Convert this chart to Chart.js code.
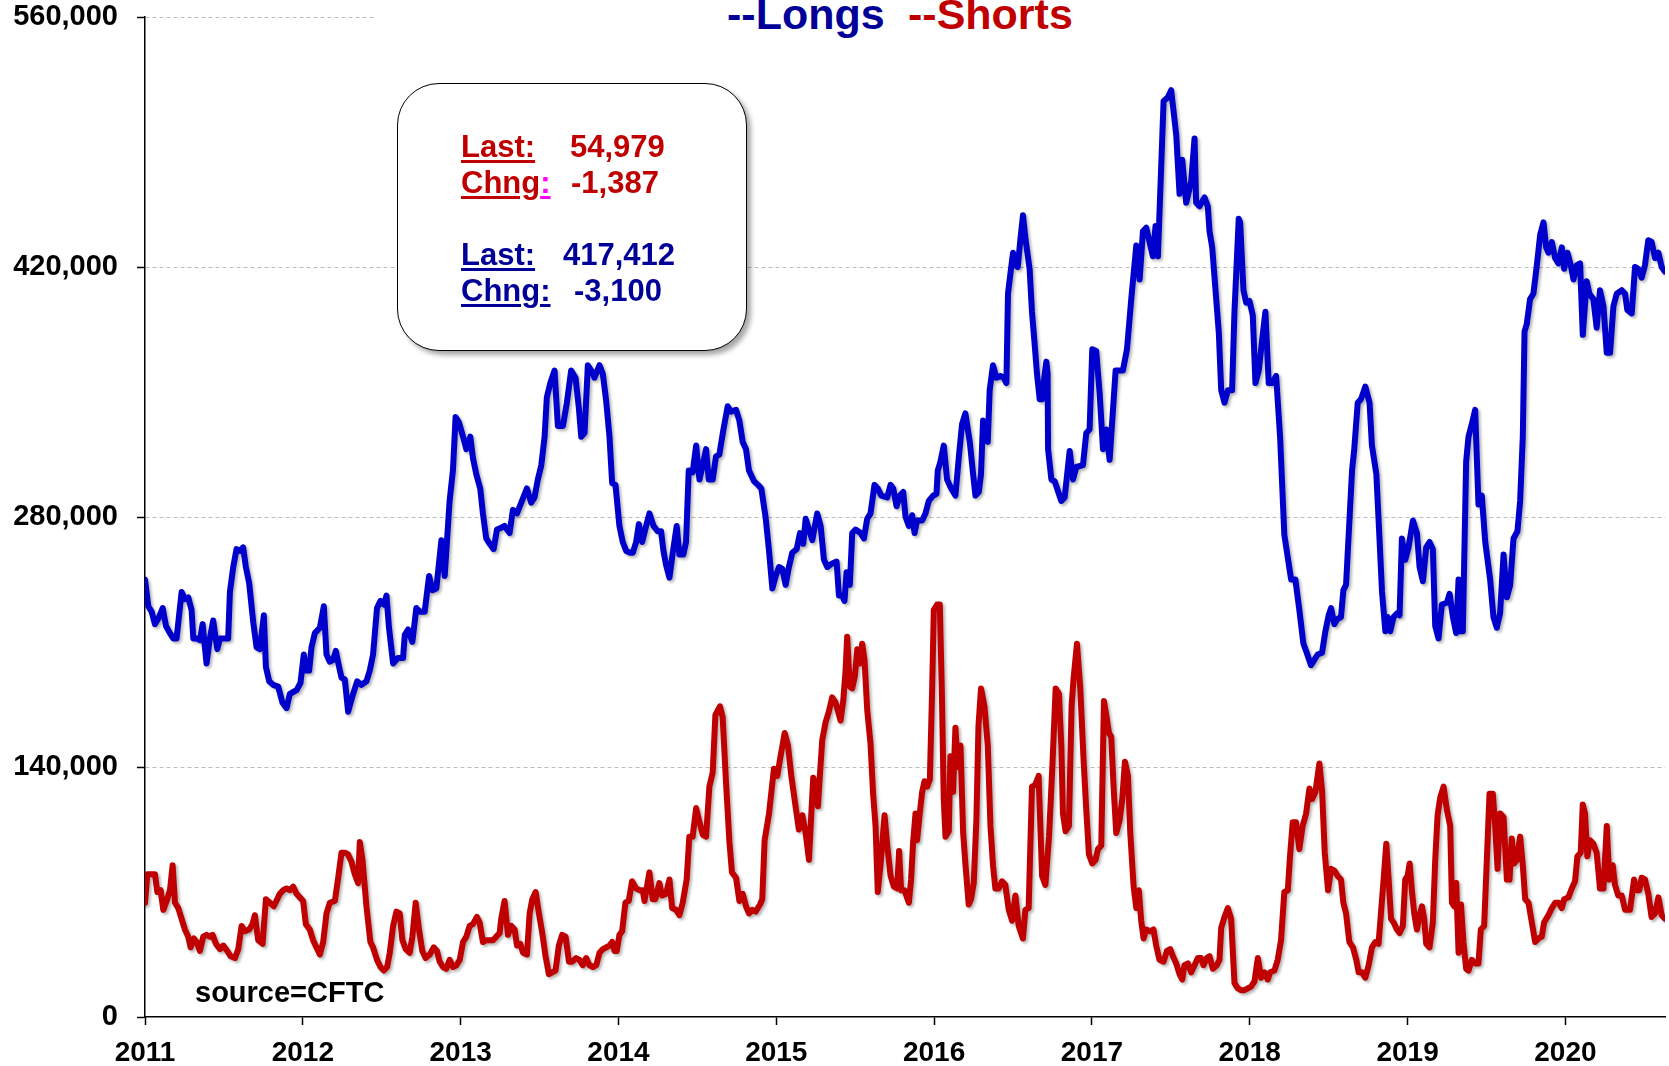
<!DOCTYPE html>
<html>
<head>
<meta charset="utf-8">
<script src="https://cdn.jsdelivr.net/npm/chart.js@4.4.1/dist/chart.umd.min.js"></script>
<style>
  html, body { margin: 0; padding: 0; background: #fff; }
  #wrap { position: relative; width: 1669px; height: 1066px; overflow: hidden;
          font-family: "Liberation Sans", Arial, sans-serif; font-weight: bold; }
  #c { position: absolute; left: 0; top: 0; }
  .t { position: absolute; line-height: 1; white-space: nowrap; }
  .u { text-decoration: underline; text-decoration-thickness: 3px; text-underline-offset: 3px; }
  .red { color: #C00000; }
  .blue { color: #000099; }
  #titleMask { position: absolute; left: 375px; top: 0; width: 1294px; height: 40px; background: #fff; }
  #box { position: absolute; left: 397px; top: 83px; width: 350px; height: 268px; box-sizing: border-box;
         border: 1.5px solid #000; border-radius: 42px; background: #fff;
         box-shadow: 4px 4px 5px rgba(0,0,0,0.35); }
  .bx { font-size: 31px; }
</style>
</head>
<body>
<div id="wrap">
  <canvas id="c" width="1669" height="1066"></canvas>
  <div id="titleMask"></div>
  <span class="t blue" style="left:727px; top:-7.4px; font-size:43px;">--Longs</span>
  <span class="t red" style="left:908px; top:-7.4px; font-size:43px;">--Shorts</span>

  <div id="box"></div>
  <span class="t bx red u" style="left:461px; top:130.8px;">Last:</span>
  <span class="t bx red" style="left:570px; top:130.8px;">54,979</span>
  <span class="t bx red" style="left:461px; top:166.6px;"><span class="u">Chng</span><span class="u" style="color:#FF00FF;">:</span></span>
  <span class="t bx red" style="left:571px; top:166.6px;">-1,387</span>
  <span class="t bx blue u" style="left:461px; top:238.8px;">Last:</span>
  <span class="t bx blue" style="left:563px; top:238.8px;">417,412</span>
  <span class="t bx blue u" style="left:461px; top:274.8px;">Chng:</span>
  <span class="t bx blue" style="left:574px; top:274.8px;">-3,100</span>

  <span class="t" style="left:195px; top:978px; font-size:29px; color:#000;">source=CFTC</span>
</div>
<script>
// ---- data (x = decimal year, values in thousands of contracts) ----
const yearTicks = [2011, 2012, 2013, 2014, 2015, 2016, 2017, 2018, 2019, 2020];
const valueTicks = [0, 140000, 280000, 420000, 560000];

const longsYear = [
  2011.000, 2011.021, 2011.042, 2011.063, 2011.084, 2011.112, 2011.133, 2011.158, 2011.179, 2011.200,
  2011.232, 2011.253, 2011.274, 2011.295, 2011.306, 2011.327, 2011.348, 2011.365, 2011.390, 2011.411,
  2011.432, 2011.458, 2011.475, 2011.506, 2011.527, 2011.538, 2011.559, 2011.580, 2011.601, 2011.622,
  2011.639, 2011.660, 2011.686, 2011.707, 2011.728, 2011.753, 2011.766, 2011.787, 2011.812, 2011.844,
  2011.871, 2011.897, 2011.918, 2011.939, 2011.960, 2011.985,
  2012.006, 2012.019, 2012.040, 2012.055, 2012.076, 2012.108, 2012.133, 2012.150, 2012.171, 2012.192,
  2012.209, 2012.230, 2012.245, 2012.266, 2012.287, 2012.319, 2012.344, 2012.371, 2012.403, 2012.424,
  2012.445, 2012.470, 2012.492, 2012.513, 2012.530, 2012.546, 2012.572, 2012.603, 2012.635, 2012.646,
  2012.667, 2012.694, 2012.719, 2012.741, 2012.772, 2012.800, 2012.821, 2012.846, 2012.878, 2012.899,
  2012.930, 2012.951, 2012.968, 2012.989,
  2013.015, 2013.036, 2013.061, 2013.078, 2013.099, 2013.124, 2013.141, 2013.162, 2013.184, 2013.209,
  2013.230, 2013.257, 2013.278, 2013.310, 2013.331, 2013.357, 2013.384, 2013.420, 2013.447, 2013.468,
  2013.489, 2013.511, 2013.532, 2013.546, 2013.568, 2013.595, 2013.616, 2013.648, 2013.673, 2013.700,
  2013.728, 2013.749, 2013.764, 2013.785, 2013.806, 2013.827, 2013.848, 2013.880, 2013.901, 2013.922,
  2013.943, 2013.960, 2013.981,
  2014.006, 2014.027, 2014.049, 2014.074, 2014.091, 2014.112, 2014.129, 2014.150, 2014.175, 2014.196,
  2014.222, 2014.249, 2014.270, 2014.285, 2014.302, 2014.323, 2014.344, 2014.369, 2014.386, 2014.411,
  2014.428, 2014.445, 2014.470, 2014.492, 2014.513, 2014.534, 2014.555, 2014.572, 2014.597, 2014.618,
  2014.639, 2014.665, 2014.692, 2014.713, 2014.745, 2014.766, 2014.787, 2014.808, 2014.827, 2014.859,
  2014.884, 2014.905, 2014.932, 2014.954, 2014.975, 2014.996,
  2015.017, 2015.038, 2015.059, 2015.080, 2015.101, 2015.129, 2015.150, 2015.171, 2015.186, 2015.207,
  2015.228, 2015.259, 2015.281, 2015.302, 2015.323, 2015.354, 2015.382, 2015.397, 2015.418, 2015.432,
  2015.445, 2015.466, 2015.481, 2015.502, 2015.534, 2015.555, 2015.576, 2015.597, 2015.622, 2015.643,
  2015.665, 2015.703, 2015.724, 2015.741, 2015.762, 2015.783, 2015.804, 2015.819, 2015.840, 2015.861,
  2015.876, 2015.892, 2015.924, 2015.945, 2015.966, 2015.994,
  2016.015, 2016.023, 2016.040, 2016.061, 2016.082, 2016.108, 2016.135, 2016.156, 2016.177, 2016.198,
  2016.226, 2016.247, 2016.262, 2016.283, 2016.297, 2016.310, 2016.331, 2016.340, 2016.352, 2016.373,
  2016.395, 2016.420, 2016.441, 2016.458, 2016.468, 2016.483, 2016.500, 2016.515, 2016.530, 2016.546,
  2016.563, 2016.580, 2016.605, 2016.620, 2016.635, 2016.652, 2016.669, 2016.684, 2016.698, 2016.711,
  2016.719, 2016.722, 2016.743, 2016.764, 2016.806, 2016.827, 2016.859, 2016.880, 2016.901, 2016.943,
  2016.964, 2016.985,
  2017.002, 2017.027, 2017.049, 2017.070, 2017.091, 2017.112, 2017.150, 2017.196, 2017.222, 2017.249,
  2017.281, 2017.302, 2017.323, 2017.344, 2017.386, 2017.403, 2017.418, 2017.454, 2017.481, 2017.502,
  2017.534, 2017.555, 2017.572, 2017.597, 2017.629, 2017.650, 2017.660, 2017.681, 2017.713, 2017.734,
  2017.745, 2017.762, 2017.783, 2017.804, 2017.819, 2017.840, 2017.861, 2017.888, 2017.903, 2017.930,
  2017.939, 2017.960, 2017.977, 2017.998,
  2018.019, 2018.036, 2018.057, 2018.078, 2018.099, 2018.120, 2018.141, 2018.167, 2018.192, 2018.219,
  2018.262, 2018.289, 2018.314, 2018.340, 2018.361, 2018.388, 2018.409, 2018.430, 2018.458, 2018.479,
  2018.500, 2018.515, 2018.536, 2018.557, 2018.578, 2018.593, 2018.610, 2018.648, 2018.662, 2018.684,
  2018.705, 2018.732, 2018.759, 2018.774, 2018.802, 2018.823, 2018.838, 2018.859, 2018.873, 2018.890,
  2018.911, 2018.932, 2018.949, 2018.964, 2018.985,
  2019.006, 2019.034, 2019.059, 2019.076, 2019.097, 2019.118, 2019.139, 2019.160, 2019.175, 2019.196,
  2019.217, 2019.249, 2019.266, 2019.287, 2019.308, 2019.323, 2019.333, 2019.350, 2019.371, 2019.386,
  2019.407, 2019.428, 2019.449, 2019.470, 2019.492, 2019.523, 2019.544, 2019.565, 2019.586, 2019.608,
  2019.629, 2019.650, 2019.671, 2019.696, 2019.713, 2019.730, 2019.741, 2019.755, 2019.776, 2019.797,
  2019.819, 2019.840, 2019.861, 2019.878, 2019.892, 2019.914, 2019.935, 2019.956, 2019.977, 2019.992,
  2020.013, 2020.034, 2020.051, 2020.072, 2020.093, 2020.110, 2020.135, 2020.152, 2020.177, 2020.198,
  2020.219, 2020.241, 2020.262, 2020.283, 2020.304, 2020.325, 2020.357, 2020.378, 2020.392, 2020.420,
  2020.441, 2020.462, 2020.483, 2020.504, 2020.525, 2020.546, 2020.568, 2020.589, 2020.610, 2020.631
];
const longsK = [
  245, 230, 227, 220, 223, 229, 219, 215, 212, 212,
  238, 234, 235, 228, 212, 212, 211, 220, 198, 212,
  222, 206, 212, 212, 212, 238, 252, 262, 261, 263,
  252, 243, 221, 207, 206, 225, 196, 188, 186, 185,
  176, 173, 181, 182, 183, 187,
  203, 194, 194, 207, 215, 218, 230, 203, 199, 200,
  205, 196, 190, 189, 171, 181, 188, 186, 188, 194,
  203, 229, 233, 231, 236, 218, 198, 201, 201, 214,
  217, 210, 229, 227, 227, 247, 239, 240, 267, 247,
  289, 306, 336, 333,
  325, 318, 325, 313, 304, 296, 282, 268, 265, 262,
  273, 274, 275, 271, 284, 282, 288, 296, 288, 291,
  301, 309, 325, 347, 355, 362, 331, 331, 344, 362,
  358, 341, 325, 327, 365, 362, 358, 365, 360, 345,
  325, 299, 298,
  275, 266, 261, 260, 260, 266, 276, 266, 275, 282,
  275, 272, 272, 261, 253, 246, 260, 275, 259, 259,
  266, 306, 305, 320, 301, 309, 318, 301, 301, 314,
  315, 329, 342, 339, 340, 334, 322, 318, 306, 300,
  298, 296, 280, 261, 240, 247,
  252, 251, 242, 252, 260, 262, 271, 265, 279, 273,
  267, 282, 275, 256, 252, 254, 255, 236, 236, 233,
  249, 242, 271, 273, 271, 268, 279, 282, 298, 296,
  292, 291, 298, 296, 286, 292, 294, 280, 275, 281,
  271, 278, 278, 282, 289, 292,
  293, 306, 311, 320, 301, 296, 292, 313, 332, 338,
  322, 304, 292, 294, 304, 334, 329, 322, 351, 365,
  358, 359, 358, 355, 405, 416, 428, 421, 420, 435,
  449, 435, 419, 395, 379, 360, 346, 346, 358, 367,
  360, 318, 301, 300, 289, 291, 317, 301, 308, 309,
  327, 329,
  374, 373, 349, 318, 329, 312, 362, 362, 374, 402,
  432, 413, 440, 442, 426, 443, 426, 513, 515, 519,
  494, 461, 480, 456, 468, 492, 456, 454, 459, 454,
  440, 431, 407, 383, 351, 344, 351, 351, 395, 447,
  445, 407, 400, 401,
  393, 355, 362, 379, 395, 355, 355, 359, 325, 270,
  245, 245, 228, 209, 204, 197, 200, 203, 204, 216,
  225, 229, 220, 223, 224, 239, 242, 306, 318, 344,
  346, 353, 344, 320, 304, 266, 238, 216, 224, 216,
  224, 226, 225, 268, 256,
  263, 278, 271, 252, 244, 263, 266, 262, 219, 212,
  231, 232, 237, 224, 215, 245, 216, 216, 311, 325,
  332, 340, 287, 292, 266, 245, 224, 218, 226, 259,
  235, 242, 268, 272, 289, 325, 384, 388, 402, 405,
  421, 438, 445, 431, 428, 434, 425, 422, 431, 419,
  428, 421, 413, 421, 422, 382, 412, 405, 402, 386,
  407, 398, 372, 372, 398, 405, 407, 405, 396, 394,
  420, 419, 414, 421, 435, 434, 425, 428, 420, 417.4
];

const shortsYear = [
  2011.000, 2011.015, 2011.042, 2011.063, 2011.078, 2011.099, 2011.116, 2011.137, 2011.158, 2011.175,
  2011.190, 2011.211, 2011.232, 2011.253, 2011.274, 2011.289, 2011.310, 2011.327, 2011.348, 2011.369,
  2011.390, 2011.411, 2011.428, 2011.449, 2011.475, 2011.496, 2011.521, 2011.542, 2011.570, 2011.591,
  2011.612, 2011.633, 2011.660, 2011.681, 2011.696, 2011.717, 2011.745, 2011.766, 2011.791, 2011.816,
  2011.838, 2011.854, 2011.876, 2011.897, 2011.918, 2011.939, 2011.960, 2011.981,
  2012.002, 2012.019, 2012.044, 2012.065, 2012.086, 2012.108, 2012.129, 2012.150, 2012.171, 2012.203,
  2012.224, 2012.245, 2012.266, 2012.287, 2012.308, 2012.329, 2012.350, 2012.361, 2012.378, 2012.403,
  2012.428, 2012.445, 2012.470, 2012.492, 2012.513, 2012.534, 2012.551, 2012.572, 2012.593, 2012.614,
  2012.631, 2012.652, 2012.677, 2012.694, 2012.715, 2012.736, 2012.757, 2012.778, 2012.804, 2012.829,
  2012.850, 2012.867, 2012.888, 2012.909, 2012.930, 2012.951, 2012.973, 2012.994,
  2013.015, 2013.036, 2013.057, 2013.078, 2013.103, 2013.120, 2013.141, 2013.162, 2013.184, 2013.205,
  2013.226, 2013.247, 2013.257, 2013.278, 2013.300, 2013.321, 2013.342, 2013.357, 2013.378, 2013.395,
  2013.420, 2013.437, 2013.454, 2013.475, 2013.496, 2013.517, 2013.538, 2013.559, 2013.580, 2013.601,
  2013.622, 2013.643, 2013.665, 2013.686, 2013.707, 2013.732, 2013.753, 2013.774, 2013.795, 2013.816,
  2013.838, 2013.859, 2013.880, 2013.901, 2013.922, 2013.943, 2013.960, 2013.975, 2013.989,
  2014.006, 2014.023, 2014.044, 2014.065, 2014.086, 2014.112, 2014.133, 2014.154, 2014.165, 2014.196,
  2014.217, 2014.234, 2014.259, 2014.276, 2014.302, 2014.323, 2014.340, 2014.365, 2014.386, 2014.407,
  2014.432, 2014.449, 2014.470, 2014.492, 2014.508, 2014.534, 2014.555, 2014.576, 2014.597, 2014.614,
  2014.643, 2014.660, 2014.681, 2014.703, 2014.719, 2014.745, 2014.766, 2014.787, 2014.808, 2014.827,
  2014.848, 2014.869, 2014.897, 2014.911, 2014.926, 2014.954, 2014.985,
  2015.006, 2015.027, 2015.053, 2015.074, 2015.095, 2015.122, 2015.143, 2015.165, 2015.186, 2015.207,
  2015.222, 2015.234, 2015.249, 2015.264, 2015.276, 2015.291, 2015.312, 2015.333, 2015.354, 2015.376,
  2015.392, 2015.407, 2015.424, 2015.439, 2015.449, 2015.466, 2015.481, 2015.498, 2015.513, 2015.530,
  2015.544, 2015.559, 2015.576, 2015.597, 2015.614, 2015.629, 2015.643, 2015.660, 2015.686, 2015.703,
  2015.724, 2015.745, 2015.766, 2015.778, 2015.791, 2015.812, 2015.840, 2015.854, 2015.867, 2015.882,
  2015.892, 2015.909, 2015.924, 2015.939, 2015.956, 2015.973, 2015.987, 2015.998,
  2016.019, 2016.036, 2016.049, 2016.061, 2016.072, 2016.093, 2016.103, 2016.120, 2016.135, 2016.150,
  2016.167, 2016.184, 2016.198, 2016.219, 2016.234, 2016.251, 2016.268, 2016.281, 2016.297, 2016.319,
  2016.340, 2016.357, 2016.373, 2016.388, 2016.409, 2016.430, 2016.451, 2016.473, 2016.494, 2016.515,
  2016.536, 2016.563, 2016.578, 2016.599, 2016.620, 2016.641, 2016.662, 2016.684, 2016.705, 2016.728,
  2016.749, 2016.770, 2016.791, 2016.806, 2016.816, 2016.833, 2016.854, 2016.871, 2016.884, 2016.905,
  2016.926, 2016.947, 2016.964, 2016.981,
  2017.002, 2017.023, 2017.038, 2017.059, 2017.076, 2017.091, 2017.108, 2017.122, 2017.137, 2017.154,
  2017.175, 2017.192, 2017.209, 2017.228, 2017.243, 2017.264, 2017.281, 2017.297, 2017.312, 2017.327,
  2017.344, 2017.369, 2017.390, 2017.407, 2017.428, 2017.454, 2017.475, 2017.496, 2017.513, 2017.534,
  2017.555, 2017.572, 2017.586, 2017.608, 2017.629, 2017.650, 2017.671, 2017.692, 2017.707, 2017.728,
  2017.745, 2017.766, 2017.791, 2017.808, 2017.819, 2017.840, 2017.861, 2017.882, 2017.903, 2017.924,
  2017.945, 2017.966, 2017.987,
  2018.008, 2018.030, 2018.051, 2018.072, 2018.093, 2018.114, 2018.129, 2018.156, 2018.177, 2018.198,
  2018.219, 2018.241, 2018.255, 2018.272, 2018.293, 2018.314, 2018.335, 2018.357, 2018.378, 2018.395,
  2018.416, 2018.441, 2018.458, 2018.475, 2018.496, 2018.515, 2018.536, 2018.557, 2018.578, 2018.593,
  2018.610, 2018.631, 2018.654, 2018.675, 2018.690, 2018.711, 2018.732, 2018.753, 2018.774, 2018.795,
  2018.816, 2018.831, 2018.848, 2018.865, 2018.880, 2018.895, 2018.911, 2018.932, 2018.949, 2018.970,
  2018.985,
  2019.000, 2019.013, 2019.027, 2019.042, 2019.059, 2019.076, 2019.091, 2019.105, 2019.118, 2019.139,
  2019.160, 2019.175, 2019.190, 2019.207, 2019.228, 2019.249, 2019.270, 2019.281, 2019.295, 2019.308,
  2019.323, 2019.338, 2019.354, 2019.371, 2019.386, 2019.407, 2019.428, 2019.449, 2019.464, 2019.485,
  2019.502, 2019.519, 2019.540, 2019.555, 2019.570, 2019.586, 2019.608, 2019.629, 2019.646, 2019.660,
  2019.675, 2019.692, 2019.713, 2019.730, 2019.745, 2019.766, 2019.787, 2019.808, 2019.829, 2019.850,
  2019.865, 2019.892, 2019.914, 2019.935, 2019.956, 2019.977, 2019.992,
  2020.019, 2020.040, 2020.061, 2020.076, 2020.097, 2020.110, 2020.124, 2020.139, 2020.156, 2020.177,
  2020.198, 2020.219, 2020.241, 2020.262, 2020.278, 2020.300, 2020.314, 2020.335, 2020.357, 2020.378,
  2020.409, 2020.435, 2020.451, 2020.468, 2020.483, 2020.504, 2020.525, 2020.546, 2020.568, 2020.589,
  2020.610, 2020.631
];
const shortsK = [
  64, 80, 80, 80, 70, 71, 60, 65, 71, 85,
  64, 61, 55, 49, 45, 39, 44, 42, 37, 45,
  46, 45, 46, 41, 38, 40, 37, 34, 33, 38,
  51, 48, 49, 52, 57, 43, 41, 66, 64, 62,
  66, 69, 71, 72, 71, 73, 69, 67,
  65, 52, 49, 43, 39, 35, 42, 58, 64, 65,
  78, 92, 92, 91, 87, 80, 75, 98, 88, 62,
  42, 39, 32, 28, 26, 28, 36, 51, 59, 58,
  43, 38, 36, 45, 64, 49, 37, 33, 35, 39,
  37, 31, 28, 27, 32, 28, 29, 32,
  42, 45, 51, 52, 56, 53, 42, 43, 43, 43,
  45, 47, 55, 65, 46, 51, 49, 40, 41, 36,
  35, 58, 66, 70, 58, 47, 34, 24, 25, 26,
  40, 46, 45, 31, 31, 33, 32, 29, 33, 29,
  28, 29, 36, 38, 39, 40, 42, 37, 37,
  46, 48, 64, 65, 76, 72, 71, 71, 65, 81,
  66, 66, 75, 68, 69, 77, 61, 60, 57, 64,
  77, 101, 101, 117, 111, 102, 101, 129, 137, 169,
  174, 168, 132, 98, 81, 78, 65, 69, 62, 58,
  60, 59, 63, 66, 99, 114, 139,
  135, 146, 159, 152, 135, 118, 105, 113, 103, 88,
  114, 134, 130, 118, 135, 155, 165, 171, 179, 176,
  171, 166, 177, 194, 213, 185, 184, 191, 206, 198,
  209, 200, 172, 153, 124, 107, 70, 85, 113, 96,
  79, 73, 72, 93, 71, 71, 64, 77, 98, 114,
  99, 114, 126, 132, 129, 133, 182, 228,
  231, 231, 182, 122, 101, 104, 146, 126, 162, 140,
  152, 103, 86, 63, 66, 75, 111, 163, 184, 174,
  152, 107, 85, 72, 72, 76, 74, 60, 54, 68,
  51, 44, 60, 61, 129, 130, 135, 79, 74, 101,
  140, 184, 181, 152, 114, 104, 107, 174, 190, 209,
  184, 144, 116, 91,
  86, 88, 94, 96, 177, 169, 159, 157, 129, 103,
  110, 122, 143, 135, 103, 73, 61, 71, 54, 44,
  49, 48, 49, 40, 32, 31, 37, 38, 34, 30,
  24, 21, 29, 30, 25, 29, 33, 33, 29, 33,
  34, 27, 29, 32, 50, 56, 61, 55, 19, 16,
  15, 15, 16,
  17, 20, 33, 22, 25, 21, 25, 26, 32, 43,
  70, 71, 90, 109, 109, 94, 107, 114, 128, 122,
  126, 142, 127, 92, 71, 83, 82, 79, 77, 64,
  58, 42, 39, 32, 25, 25, 22, 29, 39, 42,
  41, 58, 77, 97, 77, 55, 53, 49, 47, 51,
  77,
  79, 86, 71, 58, 49, 57, 62, 55, 41, 39,
  53, 88, 113, 123, 129, 116, 107, 64, 62, 75,
  36, 63, 42, 27, 26, 32, 30, 30, 49, 51,
  88, 125, 125, 107, 83, 114, 112, 77, 77, 100,
  86, 88, 101, 85, 66, 64, 53, 42, 44, 45,
  53, 57, 61, 64, 64, 61, 66,
  67, 72, 76, 90, 92, 119, 114, 90, 99, 97,
  92, 72, 72, 107, 77, 85, 74, 68, 68, 60,
  60, 77, 71, 71, 78, 77, 69, 56, 58, 67,
  57, 54.979
];

// ---- chart ----
const FONT = '"Liberation Sans", Arial, sans-serif';

const toPoints = (xs, ks) => xs.map((x, i) => ({ x: x, y: ks[i] * 1000 }));

// soft drop shadow under the lines, like the original
const lineShadow = {
  id: 'lineShadow',
  beforeDatasetDraw(chart) {
    const c = chart.ctx;
    c.save();
    c.shadowColor = 'rgba(0,0,0,0.3)';
    c.shadowBlur = 3;
    c.shadowOffsetX = 2;
    c.shadowOffsetY = 2;
  },
  afterDatasetDraw(chart) {
    chart.ctx.restore();
  }
};

new Chart(document.getElementById('c'), {
  type: 'line',
  data: {
    datasets: [
      {
        label: 'Longs',
        data: toPoints(longsYear, longsK),
        borderColor: '#0000CC',
        borderWidth: 6,
        pointRadius: 0,
        tension: 0,
        borderJoinStyle: 'round',
        borderCapStyle: 'round'
      },
      {
        label: 'Shorts',
        data: toPoints(shortsYear, shortsK),
        borderColor: '#C00000',
        borderWidth: 6,
        pointRadius: 0,
        tension: 0,
        borderJoinStyle: 'round',
        borderCapStyle: 'round'
      }
    ]
  },
  options: {
    responsive: false,
    animation: false,
    layout: { padding: { top: 17, right: 4, left: 0, bottom: 0 } },
    plugins: {
      legend: { display: false },
      tooltip: { enabled: false }
    },
    scales: {
      x: {
        type: 'linear',
        min: yearTicks[0],
        max: longsYear[longsYear.length - 1],
        afterBuildTicks: s => { s.ticks = yearTicks.map(v => ({ value: v })); },
        afterFit: s => { s.height = 49; s.paddingLeft = 0; s.paddingRight = 0; },
        grid: { drawOnChartArea: false, drawTicks: true, tickLength: 8, tickColor: '#000', tickWidth: 1.5 },
        border: { display: true, color: '#000', width: 1.5 },
        ticks: {
          autoSkip: false, maxRotation: 0, padding: 11, color: '#000',
          font: { family: FONT, size: 28, weight: 'bold' },
          callback: v => String(v)
        }
      },
      y: {
        min: valueTicks[0],
        max: valueTicks[valueTicks.length - 1],
        afterBuildTicks: s => { s.ticks = valueTicks.map(v => ({ value: v })); },
        afterFit: s => { s.width = 145; s.paddingTop = 0; s.paddingBottom = 0; },
        grid: {
          color: c => (c.tick && c.tick.value === 0) ? 'rgba(0,0,0,0)' : '#BDBDBD',
          lineWidth: 1, tickLength: 8, tickColor: '#000', tickWidth: 1.5
        },
        border: { display: true, color: '#000', width: 1.5, dash: [4, 3] },
        ticks: {
          padding: 19, color: '#000',
          font: { family: FONT, size: 29, weight: 'bold' },
          callback: v => v.toLocaleString('en-US')
        }
      }
    }
  },
  plugins: [lineShadow]
});
</script>
</body>
</html>
